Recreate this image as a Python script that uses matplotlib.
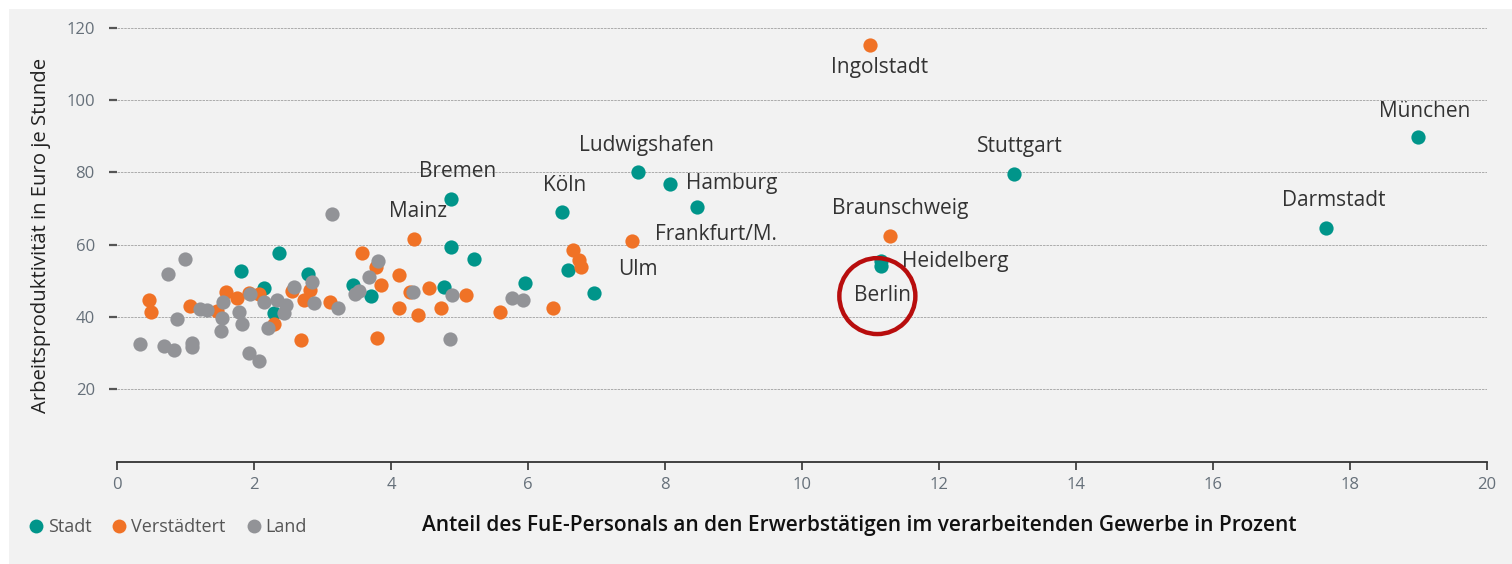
import matplotlib
matplotlib.use("Agg")
import matplotlib.pyplot as plt
from matplotlib.lines import Line2D
from matplotlib.patches import Ellipse, Rectangle

plt.rcParams['font.family'] = ['Open Sans', 'DejaVu Sans']

# Stadt (teal)
stadt_x = [4.88, 6.50, 4.87, 5.21, 6.58, 6.96, 5.95, 4.78, 3.45, 3.71, 2.37, 1.81,
           2.79, 2.14, 2.29, 7.60, 8.08, 8.47, 13.09, 19.00, 17.65, 11.15, 11.16]
stadt_y = [72.7, 69.0, 59.4, 56.1, 52.9, 46.7, 49.4, 48.3, 48.8, 45.8, 57.8, 52.7,
           52.0, 47.9, 41.2, 80.1, 76.8, 70.4, 79.5, 89.8, 64.6, 55.4, 54.1]

# Verstaedtert (orange)
verst_x = [11.00, 11.29, 7.52, 4.34, 3.57, 3.78, 6.65, 6.74, 6.78, 4.11, 3.85, 4.28,
           4.56, 5.09, 4.12, 4.40, 4.73, 5.59, 6.37, 3.80, 2.69, 2.56, 2.82, 2.73,
           3.11, 2.08, 1.92, 1.59, 1.75, 1.06, 1.46, 0.46, 0.50, 2.29]
verst_y = [115.2, 62.4, 61.0, 61.7, 57.7, 53.9, 58.5, 55.8, 53.8, 51.5, 48.8, 46.9,
           48.1, 46.2, 42.5, 40.6, 42.6, 41.4, 42.4, 34.3, 33.6, 47.2, 47.4, 44.8,
           44.2, 46.3, 46.6, 46.8, 45.3, 43.0, 41.7, 44.6, 41.5, 38.2]

# Land (grau)
land_x = [3.14, 3.81, 0.99, 0.75, 2.85, 2.59, 2.88, 3.23, 3.68, 3.53, 3.48, 4.32,
          4.89, 5.76, 5.93, 4.86, 1.94, 1.55, 1.21, 1.31, 0.87, 1.54, 1.78, 1.82,
          1.52, 2.15, 2.33, 2.46, 2.44, 2.20, 0.34, 0.68, 0.83, 1.10, 1.10, 1.92, 2.07]
land_y = [68.4, 55.5, 56.1, 52.0, 49.7, 48.3, 44.0, 42.5, 51.1, 47.2, 46.3, 47.0,
          46.1, 45.2, 44.8, 34.0, 46.3, 44.2, 42.3, 41.9, 39.4, 39.8, 41.5, 38.2,
          36.1, 44.2, 44.6, 43.3, 41.0, 37.0, 32.5, 32.0, 30.9, 32.9, 31.8, 30.0, 27.8]

# Beschriftungen (Name, x, y)
staedte = ['Ingolstadt', 'München', 'Stuttgart', 'Darmstadt', 'Braunschweig', 'Heidelberg',
           'Berlin', 'Ludwigshafen', 'Hamburg', 'Frankfurt/M.', 'Ulm', 'Köln', 'Bremen', 'Mainz']
label_x = [11.13, 19.09, 13.18, 17.77, 11.44, 12.24, 11.18, 7.73, 8.98, 8.75, 7.60, 6.54, 4.97, 4.40]
label_y = [109.1, 96.9, 87.3, 72.3, 69.9, 55.4, 46.1, 87.5, 77.0, 62.7, 53.2, 76.5, 80.3, 69.2]

teal = '#00958a'
orange = '#f07226'
grau = '#929397'

fig = plt.figure(figsize=(15.12, 5.64), dpi=100)
fig.patch.set_facecolor('white')
fig.patches.append(Rectangle((9/1512, 0), 1, 1 - 9/564, transform=fig.transFigure,
                             facecolor='#f2f2f2', edgecolor='none', zorder=-10))

ax = fig.add_axes([117/1512, 1 - 461.7/564, (1487-117)/1512, 452/564])
ax.set_facecolor('none')

ax.scatter(stadt_x, stadt_y, s=105, color=teal, linewidths=0, zorder=3)
ax.scatter(verst_x, verst_y, s=105, color=orange, linewidths=0, zorder=3)
ax.scatter(land_x, land_y, s=105, color=grau, linewidths=0, zorder=3)

for name, lx, ly in zip(staedte, label_x, label_y):
    ax.text(lx, ly, name, fontsize=15, color='#333333', ha='center', va='center', zorder=4)

# roter Kreis um Berlin
ax.add_patch(Ellipse((11.10, 45.8), 1.11, 21.0, fill=False, edgecolor='#b80d0d',
                     linewidth=3.2, zorder=5))

ax.set_xlim(0, 20)
ax.set_ylim(0, 125)
ax.set_xticks(range(0, 21, 2))
ax.set_yticks(range(20, 121, 20))

for s in ['top', 'right', 'left']:
    ax.spines[s].set_visible(False)
ax.spines['bottom'].set_color('#333333')
ax.spines['bottom'].set_linewidth(1.3)

ax.yaxis.grid(True, linestyle=(0, (2.5, 1)), color='#ababab', linewidth=0.7)
ax.set_axisbelow(True)
ax.tick_params(axis='y', length=6, width=1.6, color='#555555', labelcolor='#66707a',
               labelsize=12, pad=10)
ax.tick_params(axis='x', length=6, width=1.2, color='#333333', labelcolor='#66707a',
               labelsize=12, pad=5)

ax.set_ylabel('Arbeitsproduktivität in Euro je Stunde', fontsize=14.6, color='#222222',
              labelpad=11)
fig.text(859/1512, 1 - 526/564,
         'Anteil des FuE-Personals an den Erwerbstätigen im verarbeitenden Gewerbe in Prozent',
         fontsize=15, fontweight='semibold', color='#111111', ha='center', va='center')

handles = [Line2D([], [], marker='o', linestyle='none', markersize=10, color=c, markeredgewidth=0)
           for c in [teal, orange, grau]]
fig.legend(handles, ['Stadt', 'Verstädtert', 'Land'], loc='center left',
           bbox_to_anchor=(9/1512, 1 - 527/564), ncol=3, frameon=False, fontsize=13,
           labelcolor='#555555', handletextpad=0.05, columnspacing=0.95, handlelength=1.2)

fig.savefig('out.png', dpi=100)
